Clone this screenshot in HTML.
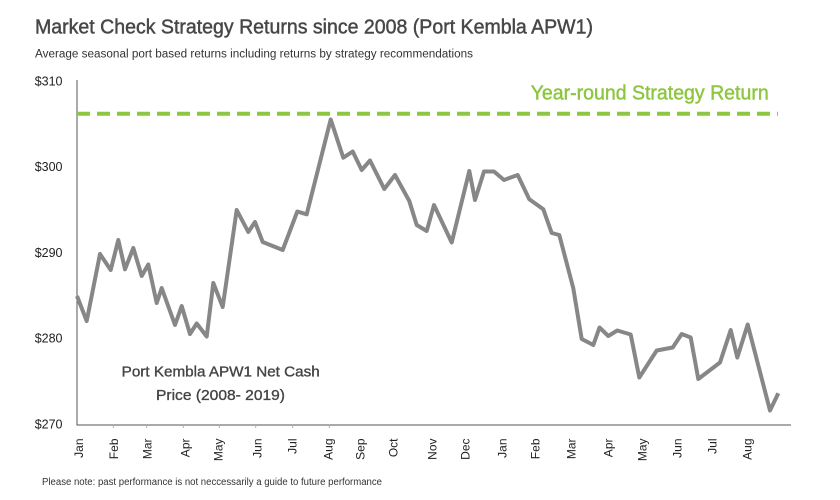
<!DOCTYPE html>
<html>
<head>
<meta charset="utf-8">
<style>
  html, body { margin:0; padding:0; background:#ffffff; }
  body { width:840px; height:500px; overflow:hidden; }
  svg { display:block; }
  text { font-family: "Liberation Sans", "DejaVu Sans", sans-serif; }
</style>
</head>
<body>
<svg width="840" height="500" viewBox="0 0 840 500" xmlns="http://www.w3.org/2000/svg">
  <rect x="0" y="0" width="840" height="500" fill="#ffffff"/>

  <!-- Title & subtitle -->
  <text x="35" y="33.3" font-size="20" fill="#474747" stroke="#474747" stroke-width="0.45" textLength="558" lengthAdjust="spacingAndGlyphs">Market Check Strategy Returns since 2008 (Port Kembla APW1)</text>
  <text x="35" y="57.5" font-size="11.5" fill="#333333" textLength="438" lengthAdjust="spacingAndGlyphs">Average seasonal port based returns including returns by strategy recommendations</text>

  <!-- Y axis labels -->
  <g font-size="12.5" fill="#222222" text-anchor="end">
    <text x="62.5" y="85.5">$310</text>
    <text x="62.5" y="171.2">$300</text>
    <text x="62.5" y="257">$290</text>
    <text x="62.5" y="342.7">$280</text>
    <text x="62.5" y="428.5">$270</text>
  </g>

  <!-- Axes -->
  <line x1="77" y1="80" x2="77" y2="425.5" stroke="#555555" stroke-width="1"/>
  <line x1="77" y1="425" x2="791" y2="425" stroke="#555555" stroke-width="1"/>

  <!-- tick marks -->
  <g stroke="#b0b0b0" stroke-width="1">
    <line x1="113.3" y1="425" x2="113.3" y2="428"/>
    <line x1="146.7" y1="425" x2="146.7" y2="428"/>
    <line x1="183.3" y1="425" x2="183.3" y2="428"/>
    <line x1="219.3" y1="425" x2="219.3" y2="428"/>
    <line x1="255.7" y1="425" x2="255.7" y2="428"/>
    <line x1="292.7" y1="425" x2="292.7" y2="428"/>
    <line x1="329.3" y1="425" x2="329.3" y2="428"/>
  </g>

  <!-- X axis month labels (rotated) -->
  <g font-size="12" fill="#222222" text-anchor="end">
    <text transform="translate(82.8,438.5) rotate(-90)">Jan</text>
    <text transform="translate(118,438.5) rotate(-90)">Feb</text>
    <text transform="translate(151.5,438.5) rotate(-90)">Mar</text>
    <text transform="translate(189.5,438.5) rotate(-90)">Apr</text>
    <text transform="translate(222.5,438.5) rotate(-90)">May</text>
    <text transform="translate(261.5,438.5) rotate(-90)">Jun</text>
    <text transform="translate(296.5,438.5) rotate(-90)">Jul</text>
    <text transform="translate(332.5,438.5) rotate(-90)">Aug</text>
    <text transform="translate(364.5,438.5) rotate(-90)">Sep</text>
    <text transform="translate(397.5,438.5) rotate(-90)">Oct</text>
    <text transform="translate(436.5,438.5) rotate(-90)">Nov</text>
    <text transform="translate(469.5,438.5) rotate(-90)">Dec</text>
    <text transform="translate(506.5,438.5) rotate(-90)">Jan</text>
    <text transform="translate(539.5,438.5) rotate(-90)">Feb</text>
    <text transform="translate(575.5,438.5) rotate(-90)">Mar</text>
    <text transform="translate(612.5,438.5) rotate(-90)">Apr</text>
    <text transform="translate(646.5,438.5) rotate(-90)">May</text>
    <text transform="translate(681.5,438.5) rotate(-90)">Jun</text>
    <text transform="translate(716.5,438.5) rotate(-90)">Jul</text>
    <text transform="translate(751.5,438.5) rotate(-90)">Aug</text>
  </g>

  <!-- Strategy return dashed line -->
  <line x1="77" y1="113.7" x2="778" y2="113.7" stroke="#8dc63f" stroke-width="4" stroke-dasharray="13 7"/>
  <text x="530.7" y="99.3" font-size="20" fill="#8dc63f" stroke="#8dc63f" stroke-width="0.45" textLength="238" lengthAdjust="spacingAndGlyphs">Year-round Strategy Return</text>

  <!-- Price series -->
  <polyline fill="none" stroke="#878787" stroke-width="4" stroke-linejoin="round" stroke-linecap="butt"
    points="77,296 86.7,321 100,254 110.7,270 118.3,240 125,269.3 133.3,248 141.7,276 148.3,264.5 156.7,303 161.7,288 175,325 181.7,306 190,334 196.7,323.5 206.7,336.5 213.3,283 222.7,307 236.7,210 248.3,232 255,222 262.7,242 282.7,250 297.3,211.5 306.7,214.3 330.7,119.5 343.3,157.7 352.7,151.5 361.7,170 370,160.5 384.3,189 395,175 409.3,201 416.7,225 426.7,231 434,205 451.7,242.5 469.3,171 475,200 484,171.5 494,171.5 504,180 517.7,175 529.3,199.3 543.3,209.3 551.7,233 559.3,235 573.3,288.3 581.7,339 593.3,345 599.5,327.5 608.3,336 617.3,330.5 630.7,334.5 639.3,377.5 656.7,350.5 672.7,347.5 681.7,334 690.7,337.5 698.3,379 720,362.5 730.7,330 737.3,357.5 747.7,324.5 770,410.5 778.3,393.3"/>

  <!-- Annotation -->
  <text x="121.7" y="376.7" font-size="15" fill="#444444" stroke="#444444" stroke-width="0.35" textLength="198" lengthAdjust="spacingAndGlyphs">Port Kembla APW1 Net Cash</text>
  <text x="156" y="400.2" font-size="15" fill="#444444" stroke="#444444" stroke-width="0.35" textLength="129" lengthAdjust="spacingAndGlyphs">Price (2008- 2019)</text>

  <!-- Footnote -->
  <text x="42" y="485" font-size="10" fill="#333333" textLength="340" lengthAdjust="spacingAndGlyphs">Please note: past performance is not neccessarily a guide to future performance</text>
</svg>
</body>
</html>
